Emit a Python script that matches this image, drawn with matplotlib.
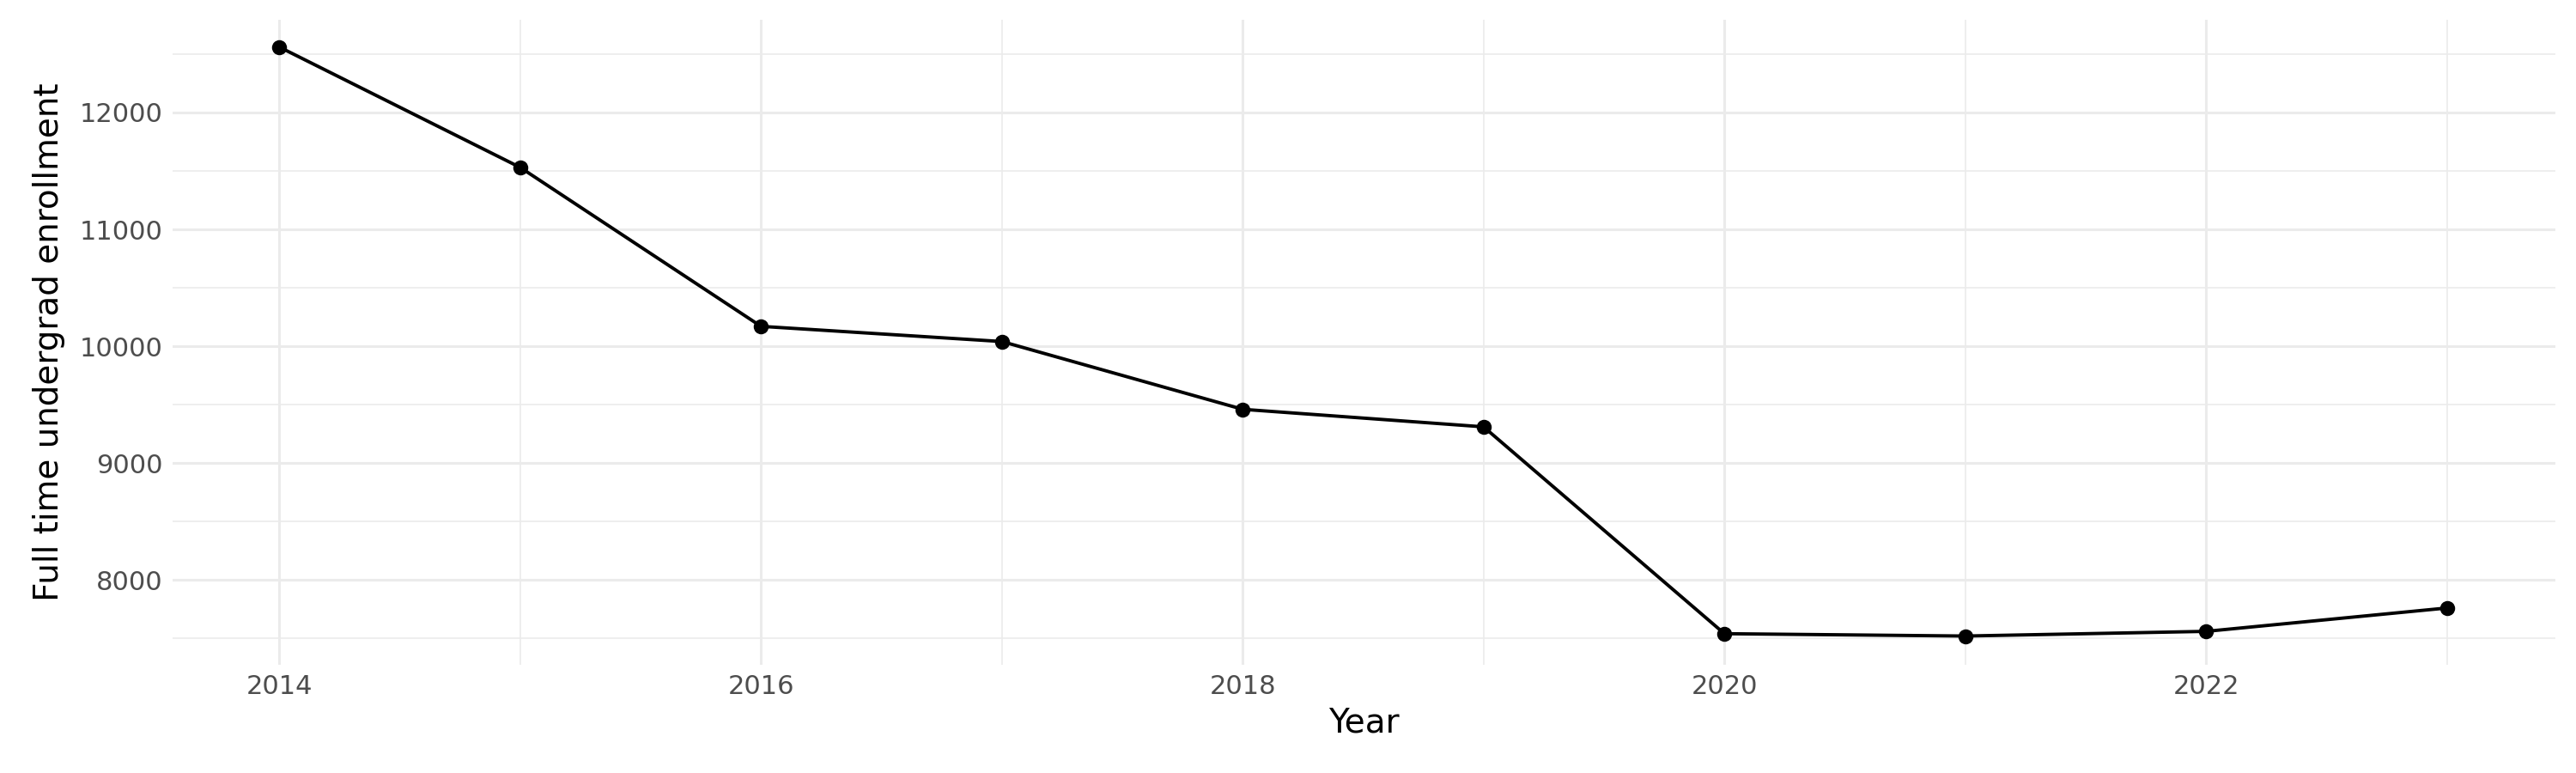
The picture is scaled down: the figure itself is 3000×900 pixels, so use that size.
import matplotlib
matplotlib.use("Agg")
import matplotlib.pyplot as plt
from matplotlib.ticker import MultipleLocator

years = [2014, 2015, 2016, 2017, 2018, 2019, 2020, 2021, 2022, 2023]
enrollment = [12560, 11530, 10170, 10040, 9460, 9310, 7540, 7520, 7560, 7760]

fig = plt.figure(figsize=(15, 4.5), dpi=200)
ax = fig.add_axes([0.067, 0.14, 0.925, 0.835])
ax.plot(years, enrollment, color="black", lw=1.4, zorder=3)
ax.scatter(years, enrollment, color="black", s=28, zorder=4)
ax.set_xlim(2013.557, 2023.45)
ax.set_ylim(7274, 12797)
ax.xaxis.set_major_locator(MultipleLocator(2))
ax.xaxis.set_minor_locator(MultipleLocator(1))
ax.yaxis.set_major_locator(MultipleLocator(1000))
ax.yaxis.set_minor_locator(MultipleLocator(500))
ax.grid(which="major", color="#ebebeb", lw=1.1)
ax.grid(which="minor", color="#ebebeb", lw=0.6)
ax.set_axisbelow(True)
for s in ax.spines.values():
    s.set_visible(False)
ax.tick_params(which="both", length=0, labelsize=11, labelcolor="#4d4d4d", pad=4)
ax.set_xlabel("Year", fontsize=14, labelpad=3)
ax.set_ylabel("Full time undergrad enrollment", fontsize=14, labelpad=6)
fig.savefig("out.png", dpi=200)
